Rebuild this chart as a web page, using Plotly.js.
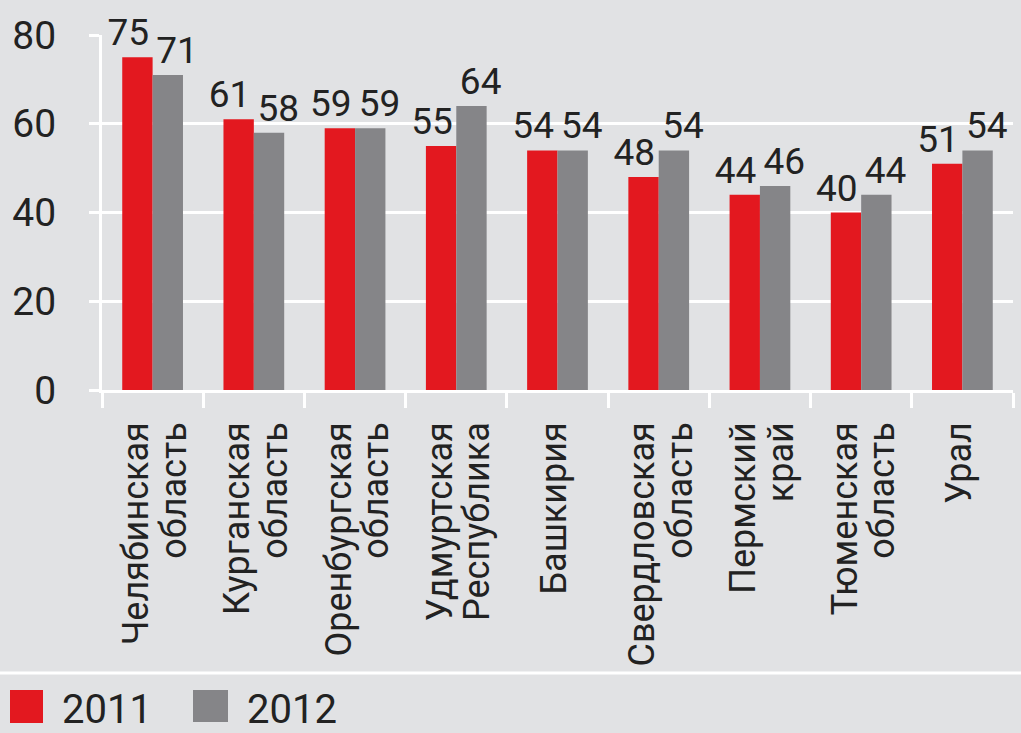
<!DOCTYPE html>
<html><head><meta charset="utf-8">
<script src="https://cdn.plot.ly/plotly-3.0.1.min.js"></script>
<style>html,body{margin:0;padding:0;background:#e1e2e4;}#chart{width:1021px;height:733px;}</style>
</head><body><div id="chart"></div>
<script>
const regionsLine1 = ['Челябинская','Курганская','Оренбургская','Удмуртская','Башкирия','Свердловская','Пермский','Тюменская','Урал'];
const regionsLine2 = ['область','область','область','Республика','','область','край','область',''];
const years = ['2011','2012'];
const values2011 = [75,61,59,55,54,48,44,40,51];
const values2012 = [71,58,59,64,54,54,46,44,54];
const yTicks = [0,20,40,60,80];

const FONT = 'Roboto, "Liberation Sans", sans-serif';
const RED = '#e3181f', GRAY = '#858588', BG = '#e1e2e4', INK = '#222222', GRID = '#ffffff';
const idx = regionsLine1.map((_, i) => i);
const boundaries = idx.map(i => i - 0.5).concat([idx.length - 0.5]);
const line1Pos = idx.map(i => i + (regionsLine2[i] ? -0.16 : -0.03));
const line2Pos = idx.map(i => i + 0.21);
const xr = [-0.5, idx.length - 0.5];

const common = {type:'bar', x: idx, textposition:'outside', constraintext:'none', cliponaxis:false,
  textfont:{family:FONT, size:37, color:INK}, hoverinfo:'skip', showlegend:false, xaxis:'x', yaxis:'y'};
const traces = [
  Object.assign({}, common, {y: values2011, name: years[0], marker:{color:RED}, texttemplate:'%{y}\u00a0\u00a0'}),
  Object.assign({}, common, {y: values2012, name: years[1], marker:{color:GRAY}, texttemplate:'\u00a0\u00a0%{y}'}),
  {type:'scatter', mode:'none', x:[], y:[], xaxis:'x2', yaxis:'y', hoverinfo:'skip', showlegend:false},
  {type:'scatter', mode:'none', x:[], y:[], xaxis:'x3', yaxis:'y', hoverinfo:'skip', showlegend:false}
];

const labelAxis = (vals, texts) => ({overlaying:'x', anchor:'y', side:'bottom', range:xr, fixedrange:true, autorange:false,
  tickmode:'array', tickvals: vals, ticktext: texts, tickangle:-90, ticks:'', showline:false, showgrid:false,
  zeroline:false, ticklabelstandoff:24, tickfont:{family:FONT, size:36, color:INK}});

const px2x = p => (p - 102) / 911, px2y = p => (390 - p) / 355;
const layout = {
  width:1021, height:733, paper_bgcolor:BG, plot_bgcolor:BG,
  margin:{l:102, r:8, t:35, b:343},
  barmode:'group', bargap:0.4, bargroupgap:0,
  showlegend:false,
  xaxis:{range:xr, autorange:false, fixedrange:true, tickmode:'array', tickvals:boundaries, showticklabels:false,
    ticks:'outside', ticklen:15, tickwidth:3, tickcolor:GRID, showgrid:false, showline:true,
    linecolor:GRID, linewidth:3, zeroline:false},
  xaxis2: labelAxis(line1Pos, regionsLine1),
  xaxis3: labelAxis(line2Pos, regionsLine2),
  yaxis:{range:[0,80], autorange:false, fixedrange:true, tickmode:'array', tickvals:yTicks, ticktext:yTicks.map(String),
    showgrid:true, gridcolor:GRID, gridwidth:3, showline:true, linecolor:GRID, linewidth:3,
    ticks:'outside', ticklen:10, tickwidth:3, tickcolor:GRID, zeroline:false, ticklabelstandoff:25,
    tickfont:{family:FONT, size:39, color:INK}},
  shapes:[
    {type:'line', xref:'paper', yref:'paper', x0:px2x(0), x1:px2x(1021), y0:px2y(673), y1:px2y(673), line:{color:GRID, width:3}},
    {type:'rect', xref:'paper', yref:'paper', x0:px2x(10), x1:px2x(43), y0:px2y(723), y1:px2y(690), fillcolor:RED, line:{width:0}},
    {type:'rect', xref:'paper', yref:'paper', x0:px2x(193), x1:px2x(228), y0:px2y(722), y1:px2y(690), fillcolor:GRAY, line:{width:0}}
  ],
  annotations:[
    {xref:'paper', yref:'paper', x:px2x(60), y:px2y(709), xanchor:'left', yanchor:'middle', showarrow:false, text:years[0], font:{family:FONT, size:40, color:INK}},
    {xref:'paper', yref:'paper', x:px2x(245), y:px2y(709), xanchor:'left', yanchor:'middle', showarrow:false, text:years[1], font:{family:FONT, size:40, color:INK}}
  ]
};
Plotly.newPlot('chart', traces, layout, {displayModeBar:false, staticPlot:true});
</script></body></html>
